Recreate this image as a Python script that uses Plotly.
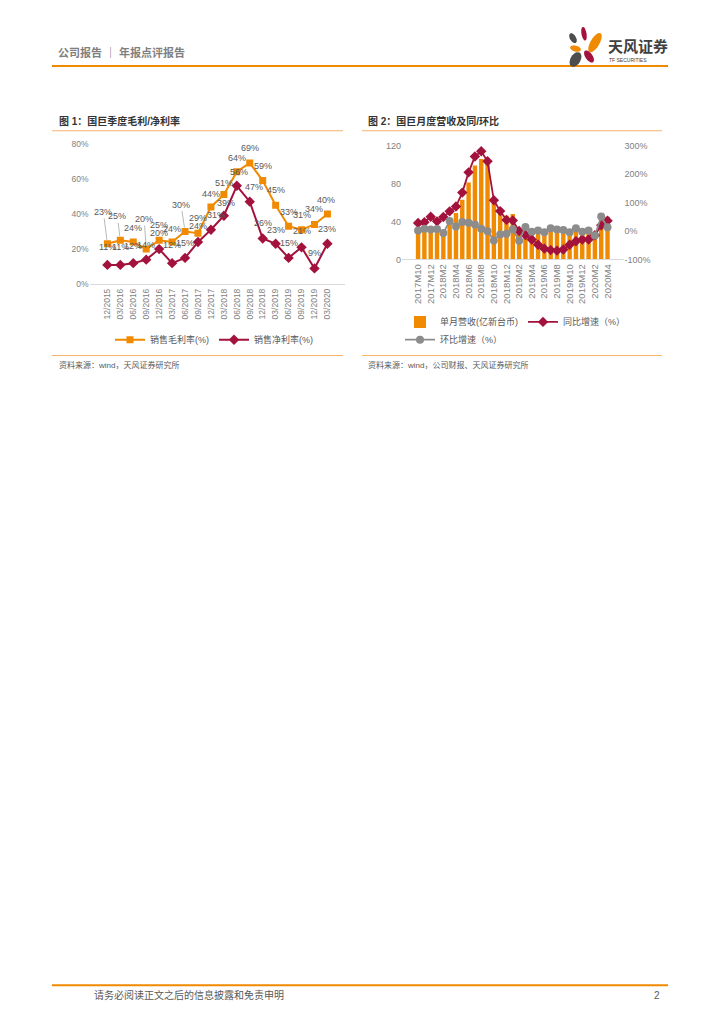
import math
import plotly.graph_objects as go

# ---------------- data: chart 1 (quarterly margins) ----------------
quarters = ["12/2015", "03/2016", "06/2016", "09/2016", "12/2016", "03/2017", "06/2017", "09/2017",
            "12/2017", "03/2018", "06/2018", "09/2018", "12/2018", "03/2019", "06/2019", "09/2019",
            "12/2019", "03/2020"]
gross_margin = [23, 25, 24, 20, 25, 24, 30, 29, 44, 51, 64, 69, 59, 45, 33, 31, 34, 40]
net_margin = [11, 11, 12, 14, 20, 12, 15, 24, 31, 39, 56, 47, 26, 23, 15, 21, 9, 23]
y1_ticks = [0, 20, 40, 60, 80]
y1_labels = ["0%", "20%", "40%", "60%", "80%"]

# ---------------- data: chart 2 (monthly revenue) ----------------
months = ["2017M10", "2017M11", "2017M12",
          "2018M1", "2018M2", "2018M3", "2018M4", "2018M5", "2018M6", "2018M7", "2018M8", "2018M9",
          "2018M10", "2018M11", "2018M12",
          "2019M1", "2019M2", "2019M3", "2019M4", "2019M5", "2019M6", "2019M7", "2019M8", "2019M9",
          "2019M10", "2019M11", "2019M12",
          "2020M1", "2020M2", "2020M3", "2020M4"]
revenue = [31, 32, 30, 32, 31, 41, 49, 63, 81, 99, 106, 103, 60, 54, 46,
           48, 28, 33, 32, 31, 30, 34, 35, 34, 31, 32, 32, 31, 26, 42, 45]
yoy = [28, 31, 50, 34, 49, 69, 86, 135, 206, 262, 280, 245, 108, 70, 39,
       37, 0, -14, -30, -48, -62, -67, -69, -65, -48, -36, -30, -30, -15, 20, 36]
mom = [2, 8, 5, 7, -7, 35, 16, 32, 29, 23, 8, -1, -33, -12, -10,
       6, -34, 14, -3, 2, -4, 10, 5, 4, -4, 10, -3, 2, -16, 51, 13]
month_ticks = months[::2]
y2_ticks = [0, 40, 80, 120]
y3_ticks = [-100, 0, 100, 200, 300]
y3_labels = ["-100%", "0%", "100%", "200%", "300%"]

# ---------------- styling ----------------
W, H = 724, 1024
ORANGE = "#F08A00"
RED = "#A3123C"
GRAY = "#8C8C8C"
TXT = "#595959"
FONT = "Liberation Sans, Noto Sans CJK SC, sans-serif"

# label placement (pixels up / right of each point)
gross_up = [32, 24, 14, 30, 15, 13, 27, 15, 13, 12, 14, 15, 15, 15, 14, 15, 15, 14]
gross_dx = [-4, -3, 0, -2, 0, 0, -4, 0, 0, 0, 0, 0, 0, 0, 0, 0, 0, -1]
net_up = [18, 18, 17, 15, 16, 18, 15, 16, 15, 13, 14, 15, 16, 14, 15, 16, 15, 15]
net_dx = [0, 0, 0, 0, 0, 0, 0, 0, 5, 2, 2, 4, 0, 0, 0, 0, 0, 0]


def px(x):
    return x / W


def py(y):
    return 1 - y / H


fig = go.Figure()

# chart 1 traces
fig.add_trace(go.Scatter(x=quarters, y=gross_margin, name="销售毛利率(%)", mode="lines+markers",
                         line=dict(color=ORANGE, width=2), marker=dict(symbol="square", size=7, color=ORANGE),
                         xaxis="x", yaxis="y", legend="legend"))
fig.add_trace(go.Scatter(x=quarters, y=net_margin, name="销售净利率(%)", mode="lines+markers",
                         line=dict(color=RED, width=2), marker=dict(symbol="diamond", size=8, color=RED),
                         xaxis="x", yaxis="y", legend="legend"))

# chart 2 traces
fig.add_trace(go.Bar(x=months, y=revenue, name="单月营收(亿新台币)", marker=dict(color=ORANGE, line_width=0),
                     xaxis="x2", yaxis="y2", legend="legend2"))
fig.add_trace(go.Scatter(x=months, y=yoy, name="同比增速（%）", mode="lines+markers",
                         line=dict(color=RED, width=1.8), marker=dict(symbol="diamond", size=8, color=RED),
                         xaxis="x2", yaxis="y3", legend="legend2"))
fig.add_trace(go.Scatter(x=months, y=mom, name="环比增速（%）", mode="lines+markers",
                         line=dict(color=GRAY, width=1.8), marker=dict(symbol="circle", size=8, color=GRAY),
                         xaxis="x2", yaxis="y3", legend="legend3"))

annotations = []
# data labels chart 1
for i, q in enumerate(quarters):
    g = gross_margin[i]
    if gross_up[i] > 20:
        annotations.append(dict(x=q, y=g, xref="x", yref="y", text=f"{g}%", showarrow=True, arrowhead=0,
                                arrowwidth=0.8, arrowcolor="#A6A6A6", ax=gross_dx[i], ay=-gross_up[i],
                                standoff=4, font=dict(size=9, color=TXT, family=FONT)))
    else:
        annotations.append(dict(x=q, y=g, xref="x", yref="y", text=f"{g}%", showarrow=False,
                                xshift=gross_dx[i], yshift=gross_up[i], font=dict(size=9, color=TXT, family=FONT)))
    n = net_margin[i]
    annotations.append(dict(x=q, y=n, xref="x", yref="y", text=f"{n}%", showarrow=False,
                            xshift=net_dx[i], yshift=net_up[i], font=dict(size=9, color=TXT, family=FONT)))


def ptext(x, y, text, size, color=TXT, xanchor="left", bold=False):
    if bold:
        text = f"<b>{text}</b>"
    annotations.append(dict(x=px(x), y=py(y), xref="paper", yref="paper", text=text, showarrow=False,
                            xanchor=xanchor, yanchor="middle", font=dict(size=size, color=color, family=FONT)))


ptext(56, 48, "公司报告 ｜ 年报点评报告", 11, "#7F7F7F", bold=True)
ptext(606, 42, "天风证券", 15, "#404040", bold=True)
ptext(607, 56, "TF SECURITIES", 5, "#404040")
ptext(57, 117, "图 1：国巨季度毛利/净利率", 10, "#333333", bold=True)
ptext(366, 117, "图 2：国巨月度营收及同/环比", 10, "#333333", bold=True)
ptext(57, 364, "资料来源：wind，天风证券研究所", 8, TXT)
ptext(366, 364, "资料来源：wind，公司财报、天风证券研究所", 8, TXT)
ptext(92, 1000, "请务必阅读正文之后的信息披露和免责申明", 10, TXT)
ptext(662, 1000, "2", 10, TXT, xanchor="right")

shapes = []


def hline(x0, x1, y, color, width):
    shapes.append(dict(type="line", xref="paper", yref="paper", x0=px(x0), x1=px(x1), y0=py(y), y1=py(y),
                       line=dict(color=color, width=width)))


hline(52, 668, 61.5, ORANGE, 2)
hline(52, 343, 127, "#F6B26B", 1)
hline(362, 662, 127, "#F6B26B", 1)
hline(52, 343, 354, "#F6B26B", 1)
hline(362, 662, 354, "#F6B26B", 1)
hline(52, 668, 990, ORANGE, 2)


def petal(cx, cy, length, width, angle_deg, color):
    a = math.radians(angle_deg)
    pts = []
    for k in range(24):
        t = 2 * math.pi * k / 24
        u = length / 2 * math.cos(t)
        v = width / 2 * math.sin(t)
        x = cx + u * math.cos(a) - v * math.sin(a)
        y = cy + u * math.sin(a) + v * math.cos(a)
        pts.append(f"{px(x):.5f},{py(y):.5f}")
    path = "M " + " L ".join(pts) + " Z"
    shapes.append(dict(type="path", xref="paper", yref="paper", path=path, fillcolor=color,
                       line=dict(width=0)))


petal(573, 33.5, 11, 6, 60, "#4D4D4D")
petal(584, 29, 14, 5, 80, RED)
petal(595, 38, 22, 9, 120, ORANGE)
petal(575.5, 44, 11, 6, 15, ORANGE)
petal(575.5, 55, 16, 10, 120, "#4D4D4D")
petal(589, 52, 14, 7, 55, RED)

axis_font = dict(size=8.5, color="#7F7F7F", family=FONT)
axis_font2 = dict(size=9, color="#7F7F7F", family=FONT)
axis_font_x2 = dict(size=9.5, color="#7F7F7F", family=FONT)

fig.update_layout(
    width=W, height=H, margin=dict(l=0, r=0, t=0, b=0),
    paper_bgcolor="white", plot_bgcolor="white",
    font=dict(family=FONT, color=TXT),
    showlegend=True, bargap=0.3,
    xaxis=dict(domain=[px(89.6), px(345.2)], type="category", tickangle=-90, tickfont=axis_font,
               showline=True, linecolor="#D9D9D9", linewidth=1, ticks="", showgrid=False, anchor="y"),
    yaxis=dict(domain=[py(282), py(140)], range=[0, 80], tickmode="array", tickvals=y1_ticks,
               ticktext=y1_labels, tickfont=axis_font,
               showgrid=False, zeroline=False, showline=False, anchor="x"),
    xaxis2=dict(domain=[px(402), px(623.6)], type="category", tickangle=-90, tickfont=axis_font_x2,
                tickvals=month_ticks, showline=True, linecolor="#D9D9D9", linewidth=1, ticks="",
                showgrid=False, anchor="y2"),
    yaxis2=dict(domain=[py(257), py(142)], range=[0, 120], tickmode="array", tickvals=y2_ticks,
                tickfont=axis_font2, showgrid=False, zeroline=False, showline=False, anchor="x2"),
    yaxis3=dict(overlaying="y2", side="right", range=[-100, 300], tickmode="array", tickvals=y3_ticks,
                ticktext=y3_labels, tickfont=axis_font2, showgrid=False, zeroline=False, showline=False,
                anchor="x2"),
    legend=dict(orientation="h", x=px(110), y=py(338), xanchor="left", yanchor="middle",
                font=dict(size=9, color=TXT, family=FONT), bgcolor="rgba(0,0,0,0)"),
    legend2=dict(orientation="h", x=px(400), y=py(320), xanchor="left", yanchor="middle",
                 font=dict(size=9, color=TXT, family=FONT), bgcolor="rgba(0,0,0,0)"),
    legend3=dict(orientation="h", x=px(400), y=py(338), xanchor="left", yanchor="middle",
                 font=dict(size=9, color=TXT, family=FONT), bgcolor="rgba(0,0,0,0)"),
    annotations=annotations, shapes=shapes,
)

fig.write_html("out.html", config={"displayModeBar": False},
               post_script="document.body.style.margin='0';document.body.style.overflow='hidden';")
